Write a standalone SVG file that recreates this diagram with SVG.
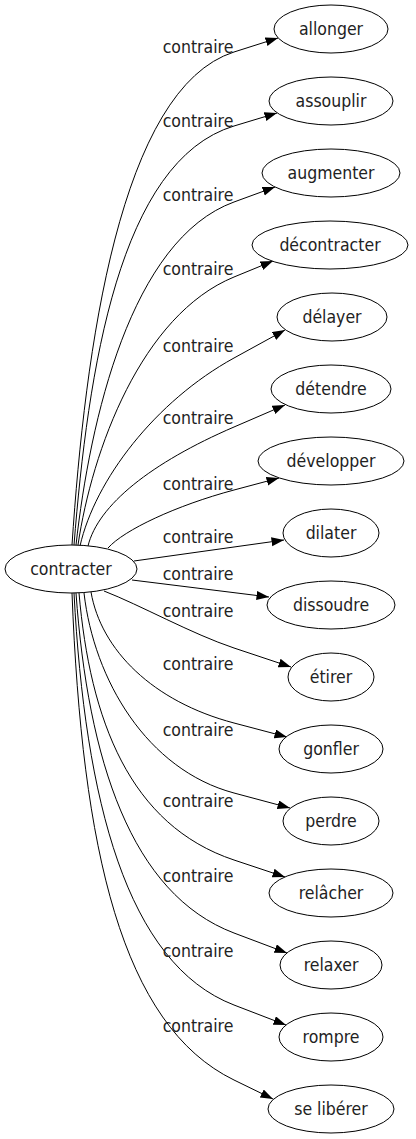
<svg xmlns="http://www.w3.org/2000/svg" width="416" height="1139" viewBox="0 0 416 1139">
<defs>
<marker id="arr" markerUnits="userSpaceOnUse" markerWidth="13" markerHeight="10" refX="12.5" refY="4.5" orient="auto">
<path d="M0,0 L12.5,4.5 L0,9 z" fill="#000"/>
</marker>
<style>
text{font-family:"DejaVu Sans Condensed","DejaVu Sans",sans-serif;font-stretch:condensed;font-size:17.5px;fill:#222;text-anchor:middle}
ellipse{fill:#fff;stroke:#000;stroke-width:1}
.e path{fill:none;stroke:#000;stroke-width:1;marker-end:url(#arr)}
</style>
</defs>
<rect width="416" height="1139" fill="#fff"/>
<g id="edges" class="e">
<path d="M72,545 C85,350 119.6,88.4 234,52 L278,38"/>
<path d="M74,545 C88,370 119.2,160.7 234,126 L277,113"/>
<path d="M76,545 C90,420 130.7,239.7 234,202 L275,187"/>
<path d="M78,545 C92,450 141.5,314.9 234,277 L273,261"/>
<path d="M80,546 C95,480 155.2,401.3 234,358 L285,330"/>
<path d="M88,546 C98,505 151.4,462.6 234,427 L285,405"/>
<path d="M108,548 C124,530 176,505.5 234,490 L279,478"/>
<path d="M134,561 L284,540"/>
<path d="M132,580 L269,597"/>
<path d="M104,591 C140,605 192,634 234,648 L291,667"/>
<path d="M91,592 C101,650 152.8,701.6 234,723 L287,737"/>
<path d="M84,593 C94,680 147,769.7 234,793 L290,808"/>
<path d="M79,593 C90,720 129.7,825.2 234,860 L285,877"/>
<path d="M76,593 C88,760 131,894 234,933 L287,953"/>
<path d="M74,593 C85,800 126.6,963.7 234,1005 L286,1025"/>
<path d="M72,593 C82,850 121.6,1025.3 234,1080 L273,1099"/>
<g id="labels">
<text x="198" y="53">contraire</text>
<text x="198" y="127">contraire</text>
<text x="198" y="201">contraire</text>
<text x="198" y="275">contraire</text>
<text x="198" y="352">contraire</text>
<text x="198" y="424">contraire</text>
<text x="198" y="490">contraire</text>
<text x="198" y="543">contraire</text>
<text x="198" y="580">contraire</text>
<text x="198" y="617">contraire</text>
<text x="198" y="670">contraire</text>
<text x="198" y="736">contraire</text>
<text x="198" y="807">contraire</text>
<text x="198" y="882">contraire</text>
<text x="198" y="957">contraire</text>
<text x="198" y="1032">contraire</text>
</g>
</g>
<g id="n-contracter"><ellipse cx="71" cy="569" rx="66" ry="24"/><text x="71" y="575">contracter</text></g>
<g id="n-allonger"><ellipse cx="331" cy="29" rx="57" ry="24"/><text x="331" y="35">allonger</text></g>
<g id="n-assouplir"><ellipse cx="331" cy="101" rx="62" ry="24"/><text x="331" y="107">assouplir</text></g>
<g id="n-augmenter"><ellipse cx="331" cy="173" rx="69" ry="24"/><text x="331" y="179">augmenter</text></g>
<g id="n-decontracter"><ellipse cx="330" cy="245" rx="78" ry="24"/><text x="330" y="251">décontracter</text></g>
<g id="n-delayer"><ellipse cx="332" cy="317" rx="55" ry="24"/><text x="332" y="323">délayer</text></g>
<g id="n-detendre"><ellipse cx="331" cy="389" rx="60" ry="24"/><text x="331" y="395">détendre</text></g>
<g id="n-developper"><ellipse cx="331" cy="461" rx="73" ry="24"/><text x="331" y="467">développer</text></g>
<g id="n-dilater"><ellipse cx="331" cy="533" rx="48" ry="24"/><text x="331" y="539">dilater</text></g>
<g id="n-dissoudre"><ellipse cx="331" cy="605" rx="64" ry="24"/><text x="331" y="611">dissoudre</text></g>
<g id="n-etirer"><ellipse cx="331" cy="677" rx="43" ry="24"/><text x="331" y="683">étirer</text></g>
<g id="n-gonfler"><ellipse cx="331" cy="749" rx="52" ry="24"/><text x="331" y="755">gonfler</text></g>
<g id="n-perdre"><ellipse cx="331" cy="821" rx="48" ry="24"/><text x="331" y="827">perdre</text></g>
<g id="n-relacher"><ellipse cx="331" cy="893" rx="62" ry="24"/><text x="331" y="899">relâcher</text></g>
<g id="n-relaxer"><ellipse cx="331" cy="965" rx="51" ry="24"/><text x="331" y="971">relaxer</text></g>
<g id="n-rompre"><ellipse cx="331" cy="1037" rx="52" ry="24"/><text x="331" y="1043">rompre</text></g>
<g id="n-se-liberer"><ellipse cx="331" cy="1109" rx="63" ry="24"/><text x="331" y="1115">se libérer</text></g>
</svg>
